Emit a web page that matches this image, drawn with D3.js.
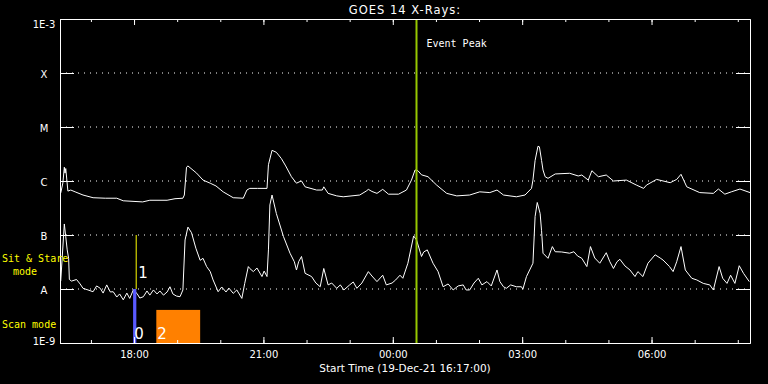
<!DOCTYPE html>
<html>
<head>
<meta charset="utf-8">
<script src="https://cdn.jsdelivr.net/npm/d3@7"></script>
<style>
body { margin: 0; background: #000; }
svg { display: block; }
</style>
</head>
<body>
<div id="chart"></div>
<script>
// GOES 14 long channel (1-8 A), [time, W/m2]
var longData = [
  ["16:18",6.0e-7],["16:21",9.2e-7],["16:23",1.8e-6],["16:24",1.4e-6],["16:25",1.7e-6],["16:28",6.5e-7],
  ["16:32",6.8e-7],["16:38",6.3e-7],["16:49",5.5e-7],["17:03",4.9e-7],["17:20",4.8e-7],["17:36",4.8e-7],
  ["17:45",4.3e-7],["18:12",4.1e-7],["18:22",4.4e-7],["18:46",4.4e-7],["18:57",4.7e-7],["19:08",4.8e-7],
  ["19:10",5.5e-7],["19:13",1.8e-6],["19:15",1.9e-6],["19:27",1.4e-6],["19:36",1.04e-6],["19:46",9.1e-7],
  ["19:54",8.1e-7],["20:04",6.3e-7],["20:18",4.9e-7],["20:32",4.8e-7],["20:37",6.8e-7],["20:41",7.3e-7],
  ["20:52",7.3e-7],["21:05",7.3e-7],["21:07",2.0e-6],["21:12",3.7e-6],["21:18",3.4e-6],["21:25",2.6e-6],
  ["21:31",1.9e-6],["21:39",1.2e-6],["21:46",9.1e-7],["21:51",9.8e-7],["21:53",1.0e-6],["21:58",7.8e-7],
  ["22:14",6.8e-7],["22:22",6.8e-7],["22:24",7.8e-7],["22:30",5.9e-7],["22:42",5.3e-7],["22:51",5.1e-7],
  ["23:14",5.5e-7],["23:23",6.5e-7],["23:26",7.0e-7],["23:31",6.4e-7],["23:38",5.9e-7],["23:46",7.0e-7],
  ["23:54",5.7e-7],["00:08",5.7e-7],["00:19",6.8e-7],["00:26",1.04e-6],["00:31",1.6e-6],["00:35",1.55e-6],
  ["00:40",1.3e-6],["00:49",1.2e-6],["01:01",8.4e-7],["01:15",5.9e-7],["01:29",5.3e-7],["01:47",5.5e-7],
  ["02:01",6.3e-7],["02:15",6.1e-7],["02:25",6.8e-7],["02:34",5.5e-7],["02:52",5.1e-7],["03:04",5.5e-7],
  ["03:13",7.3e-7],["03:15",1.04e-6],["03:18",2.4e-6],["03:22",4.4e-6],["03:24",4.3e-6],["03:27",2.4e-6],
  ["03:29",1.6e-6],["03:32",1.2e-6],["03:36",1.12e-6],["03:46",1.35e-6],["04:06",1.39e-6],["04:18",1.24e-6],
  ["04:23",1.29e-6],["04:32",1.04e-6],["04:37",1.55e-6],["04:46",1.2e-6],["04:57",1.29e-6],["05:07",1.0e-6],
  ["05:25",1.04e-6],["05:39",8.4e-7],["05:49",7.3e-7],["05:53",8.4e-7],["06:07",1.07e-6],["06:26",9.3e-7],
  ["06:35",1.07e-6],["06:41",1.33e-6],["06:49",7.8e-7],["07:07",6.1e-7],["07:26",5.9e-7],["07:33",7.1e-7],
  ["07:42",5.7e-7],["07:51",6.3e-7],["08:03",7.1e-7],["08:17",6.1e-7]
];

// short channel (0.5-4 A)
var shortData = [
  ["16:18",1.4e-8],["16:23",1.6e-7],["16:25",9.3e-8],["16:27",5.3e-8],["16:29",3.7e-8],["16:30",1.5e-8],
  ["16:33",1.4e-8],["16:40",1.5e-8],["16:45",1.24e-8],["16:49",1.03e-8],["16:56",9.6e-9],["17:03",8.9e-9],
  ["17:08",1.14e-8],["17:13",1.03e-8],["17:17",8.4e-9],["17:22",1.19e-8],["17:27",8.8e-9],["17:31",8.9e-9],
  ["17:36",7.1e-9],["17:40",8.1e-9],["17:45",6.3e-9],["17:50",8.4e-9],["17:54",6.7e-9],["17:59",9.6e-9],
  ["18:04",8.3e-9],["18:08",6.8e-9],["18:13",7.2e-9],["18:18",9.2e-9],["18:22",7.7e-9],["18:27",9.6e-9],
  ["18:32",8.1e-9],["18:36",9.2e-9],["18:41",7.7e-9],["18:46",8.8e-9],["18:50",1.1e-8],["18:54",8.1e-9],
  ["18:59",7.4e-9],["19:04",7.2e-9],["19:08",9.6e-9],["19:11",8.1e-8],["19:15",1.4e-7],["19:20",1.1e-7],
  ["19:26",5.7e-8],["19:32",3.4e-8],["19:36",3.7e-8],["19:41",2.6e-8],["19:46",2.1e-8],["19:50",1.47e-8],
  ["19:57",8.9e-9],["20:02",1.09e-8],["20:08",8.8e-9],["20:12",1.04e-8],["20:18",8.3e-9],["20:23",9.6e-9],
  ["20:30",6.7e-9],["20:34",1.27e-8],["20:39",2.6e-8],["20:41",2.4e-8],["20:46",2.1e-8],["20:51",2.45e-8],
  ["20:58",1.7e-8],["21:01",2.15e-8],["21:05",1.7e-8],["21:07",5.3e-8],["21:09",3.6e-7],["21:12",5.5e-7],
  ["21:18",2.5e-7],["21:28",9.3e-8],["21:37",4.6e-8],["21:43",3.2e-8],["21:46",2.25e-8],["21:49",3.2e-8],
  ["21:53",4.0e-8],["21:58",1.95e-8],["22:07",1.7e-8],["22:13",1.29e-8],["22:19",1.1e-8],["22:24",2.4e-8],
  ["22:30",1.19e-8],["22:35",1.29e-8],["22:42",1.03e-8],["22:47",1.19e-8],["22:52",9.6e-9],["23:00",1.19e-8],
  ["23:05",1.35e-8],["23:10",1.03e-8],["23:17",1.29e-8],["23:26",2.1e-8],["23:31",1.74e-8],["23:38",1.37e-8],
  ["23:46",1.8e-8],["23:51",1.19e-8],["23:59",1.29e-8],["00:04",1.47e-8],["00:10",1.8e-8],["00:14",1.58e-8],
  ["00:21",3.0e-8],["00:29",9.6e-8],["00:33",8.1e-8],["00:40",4.0e-8],["00:43",4.85e-8],["00:48",5.3e-8],
  ["00:56",3.0e-8],["01:03",2.1e-8],["01:10",1.1e-8],["01:17",1.24e-8],["01:24",9.6e-9],["01:31",1.14e-8],
  ["01:38",1.19e-8],["01:42",9.6e-9],["01:47",9.6e-9],["01:53",1.29e-8],["01:59",1.58e-8],["02:04",1.19e-8],
  ["02:11",1.37e-8],["02:17",1.14e-8],["02:25",2.25e-8],["02:29",1.37e-8],["02:34",1.1e-8],["02:38",1.03e-8],
  ["02:44",1.19e-8],["02:52",1.1e-8],["02:59",1.1e-8],["03:01",9.9e-9],["03:06",1.7e-8],["03:15",3.0e-8],
  ["03:18",2.2e-7],["03:21",4.0e-7],["03:25",2.5e-7],["03:27",1.2e-7],["03:29",4.6e-8],["03:36",3.7e-8],
  ["03:42",6.1e-8],["03:46",4.9e-8],["03:55",4.85e-8],["04:06",4.6e-8],["04:12",4.9e-8],["04:17",4.1e-8],
  ["04:23",3.7e-8],["04:30",2.6e-8],["04:35",6.1e-8],["04:41",3.75e-8],["04:48",3.0e-8],["04:57",4.7e-8],
  ["05:02",3.2e-8],["05:07",2.4e-8],["05:12",3.2e-8],["05:16",3.55e-8],["05:23",2.67e-8],["05:30",2.25e-8],
  ["05:37",1.7e-8],["05:41",2.1e-8],["05:48",1.7e-8],["05:55",3.0e-8],["06:05",4.3e-8],["06:12",3.75e-8],
  ["06:16",3.44e-8],["06:25",2.6e-8],["06:30",2.1e-8],["06:35",3.2e-8],["06:41",6.1e-8],["06:47",2.25e-8],
  ["06:56",1.58e-8],["07:03",1.47e-8],["07:12",1.27e-8],["07:21",1.19e-8],["07:26",9.6e-9],["07:34",2.6e-8],
  ["07:39",1.58e-8],["07:45",1.27e-8],["07:50",1.8e-8],["07:56",1.27e-8],["08:02",2.7e-8],["08:08",1.95e-8],
  ["08:16",1.37e-8]
];

var levelValues = [1e-9, 1e-8, 1e-7, 1e-6, 1e-5, 1e-4, 1e-3];
var levelLabels = ["1E-9", "A", "B", "C", "M", "X", "1E-3"];
var startTime = "16:17", endTime = "08:17";
var eventPeak = "00:33";
// sit & stare marker and scan mode blocks
var sitStare = [{time: "18:03", top: 1e-7, bottom: 1e-8, label: "1"}];
var scanBlocks = [
  {start: "17:59", end: "18:03", top: 1e-8, label: "0"},
  {start: "18:31", end: "19:32", top: 4.1e-9, label: "2"}
];
var scanColors = ["#5a5aff", "#ff8000"];

var margin = {top: 19, right: 18, bottom: 41, left: 60};
var width = 768 - margin.left - margin.right;
var height = 384 - margin.top - margin.bottom;
var font = "DejaVu Sans, sans-serif";
var mono = "DejaVu Sans Mono, monospace";

var parseT = function(s) {
    var h = +s.slice(0, 2), m = +s.slice(3);
    return new Date(2021, 11, h < 16 ? 20 : 19, h, m);
};

var svg = d3.select("#chart").append("svg")
    .attr("width", 768).attr("height", 384)
    .style("background", "#000");
var g = svg.append("g")
    .attr("transform", "translate(" + margin.left + "," + margin.top + ")");

var x = d3.scaleTime()
    .domain([parseT(startTime), parseT(endTime)])
    .range([0, width]);
var y = d3.scaleLog()
    .domain([1e-9, 1e-3])
    .range([height, 0]);

// dotted level lines
g.selectAll(".grid")
    .data(levelValues.slice(1, 6))
    .enter().append("line")
    .attr("x1", 0).attr("x2", width)
    .attr("y1", d => y(d)).attr("y2", d => y(d))
    .attr("stroke", "#fff")
    .attr("stroke-dasharray", "1,5");

// scan blocks
g.selectAll(".scan")
    .data(scanBlocks)
    .enter().append("rect")
    .attr("x", d => x(parseT(d.start)))
    .attr("width", d => x(parseT(d.end)) - x(parseT(d.start)))
    .attr("y", d => y(d.top))
    .attr("height", d => height - y(d.top))
    .attr("fill", (d, i) => scanColors[i]);

var line = d3.line()
    .x(d => x(parseT(d[0])))
    .y(d => y(d[1]));

[longData, shortData].forEach(function(series) {
    g.append("path")
        .datum(series)
        .attr("d", line)
        .attr("fill", "none")
        .attr("stroke", "#fff")
        .attr("stroke-width", 1);
});

// blue scan bar drawn again on top of the curve
g.append("rect")
    .attr("x", x(parseT(scanBlocks[0].start)))
    .attr("width", x(parseT(scanBlocks[0].end)) - x(parseT(scanBlocks[0].start)))
    .attr("y", y(scanBlocks[0].top))
    .attr("height", height - y(scanBlocks[0].top))
    .attr("fill", scanColors[0]);

g.selectAll(".scanlbl")
    .data(scanBlocks)
    .enter().append("text")
    .attr("x", d => x(parseT(d.start)) + 1)
    .attr("y", height - 4)
    .attr("fill", "#fff")
    .attr("font-family", font)
    .attr("font-size", 15)
    .text(d => d.label);

g.selectAll(".sit")
    .data(sitStare)
    .enter().append("line")
    .attr("x1", d => x(parseT(d.time))).attr("x2", d => x(parseT(d.time)))
    .attr("y1", d => y(d.top)).attr("y2", d => y(d.bottom))
    .attr("stroke", "#ffff00");
g.selectAll(".sitlbl")
    .data(sitStare)
    .enter().append("text")
    .attr("x", d => x(parseT(d.time)) + 2)
    .attr("y", d => y(d.bottom) - 11)
    .attr("fill", "#fff")
    .attr("font-family", font)
    .attr("font-size", 15)
    .text(d => d.label);

// event peak
g.append("line")
    .attr("x1", x(parseT(eventPeak))).attr("x2", x(parseT(eventPeak)))
    .attr("y1", 0).attr("y2", height)
    .attr("stroke", "#96c800")
    .attr("stroke-width", 2);
g.append("text")
    .attr("x", x(parseT(eventPeak)) + 10)
    .attr("y", 28)
    .attr("fill", "#fff")
    .attr("font-family", mono)
    .attr("font-size", 10)
    .text("Event Peak");

// axes
var styleAxis = function(sel) {
    sel.attr("color", "#fff").attr("font-family", font).attr("font-size", 10);
};

g.append("g")
    .attr("transform", "translate(0," + height + ")")
    .call(d3.axisBottom(x).ticks(d3.timeHour.every(1)).tickFormat("").tickSizeInner(-3).tickSizeOuter(0))
    .call(styleAxis);
g.append("g")
    .attr("transform", "translate(0," + height + ")")
    .call(d3.axisBottom(x).ticks(d3.timeHour.every(3)).tickFormat(d3.timeFormat("%H:%M"))
        .tickSizeInner(-6).tickSizeOuter(0).tickPadding(8))
    .call(styleAxis);
g.append("g")
    .call(d3.axisTop(x).ticks(d3.timeHour.every(1)).tickFormat("").tickSizeInner(-3).tickSizeOuter(0))
    .call(styleAxis);
g.append("g")
    .call(d3.axisTop(x).ticks(d3.timeHour.every(3)).tickFormat("").tickSizeInner(-6).tickSizeOuter(0))
    .call(styleAxis);

var yLeft = g.append("g")
    .call(d3.axisLeft(y).tickValues(levelValues).tickFormat((d, i) => levelLabels[i])
        .tickSizeInner(-14).tickSizeOuter(0).tickPadding(16))
    .call(styleAxis);
yLeft.selectAll("text")
    .attr("text-anchor", "middle")
    .attr("fill", "#fff")
    .attr("dy", (d, i) => i === 0 ? "0.1em" : (i === 6 ? "0.8em" : "0.45em"));
g.append("g")
    .attr("transform", "translate(" + width + ",0)")
    .call(d3.axisRight(y).tickValues(levelValues).tickFormat("").tickSizeInner(-14).tickSizeOuter(0))
    .call(styleAxis);

// titles
svg.append("text")
    .attr("x", margin.left + width / 2)
    .attr("y", 14)
    .attr("text-anchor", "middle")
    .attr("fill", "#fff")
    .attr("font-family", font)
    .attr("font-size", 11.5)
    .attr("letter-spacing", 1)
    .text("GOES 14 X-Rays:");
svg.append("text")
    .attr("x", margin.left + width / 2)
    .attr("y", 372)
    .attr("text-anchor", "middle")
    .attr("fill", "#fff")
    .attr("font-family", font)
    .attr("font-size", 10.5)
    .text("Start Time (19-Dec-21 16:17:00)");

// mode labels
var modeText = [["Sit & Stare", 2, 262], ["mode", 13, 275], ["Scan mode", 2, 328]];
svg.selectAll(".mode")
    .data(modeText)
    .enter().append("text")
    .attr("x", d => d[1]).attr("y", d => d[2])
    .attr("fill", "#ffff00")
    .attr("font-family", mono)
    .attr("font-size", 10)
    .text(d => d[0]);
</script>
</body>
</html>
